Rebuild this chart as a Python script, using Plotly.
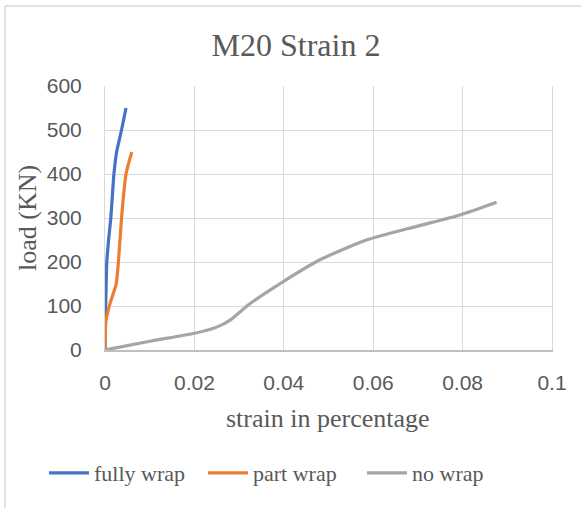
import plotly.graph_objects as go

# Load vs strain readings for the three M20 specimens
fully_strain = [0, 0.0001, 0.0004, 0.0008, 0.0013, 0.002, 0.0026, 0.0037, 0.0047]
fully_load = [0, 70, 200, 250, 300, 400, 450, 500, 550]

part_strain = [0, 0.0002, 0.0011, 0.0025, 0.003, 0.0037, 0.0047, 0.006]
part_load = [0, 65, 105, 150, 200, 300, 400, 450]

no_strain = [0, 0.01, 0.02, 0.025, 0.028, 0.0324, 0.0398, 0.0481, 0.0585, 0.0697, 0.0794, 0.0876]
no_load = [0, 20, 38, 52, 68, 105, 155, 205, 250, 281, 307, 336]

x_ticks = [0, 0.02, 0.04, 0.06, 0.08, 0.1]
x_tick_text = ["0", "0.02", "0.04", "0.06", "0.08", "0.1"]
y_ticks = [0, 100, 200, 300, 400, 500, 600]

SERIF = "Liberation Serif, Times New Roman, serif"
SANS = "Liberation Sans, Arial, sans-serif"
TEXT = "#595959"

fig = go.Figure()
for name, xs, ys, color in [
    ("fully wrap", fully_strain, fully_load, "#4472C4"),
    ("part wrap", part_strain, part_load, "#ED7D31"),
    ("no wrap", no_strain, no_load, "#A5A5A5"),
]:
    fig.add_trace(go.Scatter(
        x=xs, y=ys, name=name, mode="lines",
        line=dict(color=color, width=3.2, shape="spline", smoothing=0.6),
    ))

W, H = 581, 508
L, R, T, B = 105, 29, 86, 158
pw, ph = W - L - R, H - T - B

def px_x(px):
    return (px - L) / pw

def px_y(py):
    return (H - B - py) / ph

fig.update_layout(
    width=W, height=H,
    margin=dict(l=L, r=R, t=T, b=B),
    paper_bgcolor="white", plot_bgcolor="white",
    title=dict(text="M20 Strain 2", x=296 / W, xanchor="center",
               y=1 - 45 / H, yanchor="middle",
               font=dict(family=SERIF, size=32, color=TEXT)),
    xaxis=dict(range=[0, 0.1], tickvals=x_ticks, ticktext=x_tick_text,
               showgrid=True, gridcolor="#d9d9d9", gridwidth=1,
               showline=True, linecolor="#bfbfbf", linewidth=1.5,
               zeroline=False, ticks="", ticklabelstandoff=13,
               tickfont=dict(family=SANS, size=21, color=TEXT)),
    yaxis=dict(range=[0, 600], tickvals=y_ticks,
               showgrid=True, gridcolor="#d9d9d9", gridwidth=1,
               showline=True, linecolor="#d9d9d9", linewidth=1, mirror=True,
               zeroline=False, ticks="", ticklabelstandoff=18,
               tickfont=dict(family=SANS, size=21, color=TEXT)),
    showlegend=True,
    legend=dict(orientation="h", x=px_x(44), xanchor="left",
                y=px_y(473), yanchor="middle",
                font=dict(family=SERIF, size=22, color=TEXT),
                bgcolor="rgba(0,0,0,0)", itemwidth=40,
                entrywidth=104, entrywidthmode="pixels"),
    annotations=[
        dict(text="strain in percentage", xref="paper", yref="paper",
             x=px_x(328), y=px_y(418), xanchor="center", yanchor="middle",
             showarrow=False, font=dict(family=SERIF, size=26, color=TEXT)),
        dict(text="load (KN)", xref="paper", yref="paper",
             x=px_x(27), y=px_y(218), xanchor="center", yanchor="middle",
             textangle=-90, showarrow=False,
             font=dict(family=SERIF, size=26, color=TEXT)),
    ],
    shapes=[
        # chart frame
        dict(type="line", xref="paper", yref="paper",
             x0=px_x(5), x1=px_x(5), y0=px_y(6), y1=px_y(H + 5),
             line=dict(color="#d9d9d9", width=1.5)),
        dict(type="line", xref="paper", yref="paper",
             x0=px_x(5), x1=px_x(W + 5), y0=px_y(6), y1=px_y(6),
             line=dict(color="#d9d9d9", width=1.5)),
    ],
)

fig.write_html("out.html")
